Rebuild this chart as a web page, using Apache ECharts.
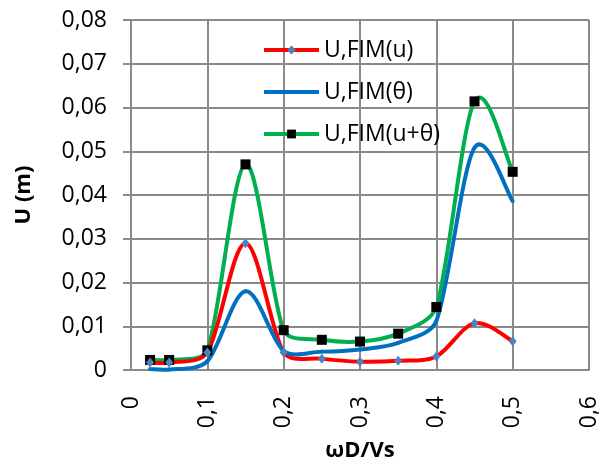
<!DOCTYPE html>
<html>
<head>
<meta charset="utf-8">
<script src="https://cdn.jsdelivr.net/npm/echarts@6/dist/echarts.min.js"></script>
<style>
  html, body { margin: 0; padding: 0; background: #fff; }
  #chart { width: 608px; height: 467px; }
</style>
</head>
<body>
<div id="chart"></div>
<script>
// Frequency ratio ωD/Vs
const freq = [0.025, 0.05, 0.1, 0.15, 0.2, 0.25, 0.3, 0.35, 0.4, 0.45, 0.5];
// Displacement amplitude U (m) for each excitation case
const uFimU = [0.0017, 0.0017, 0.004, 0.029, 0.004, 0.0026, 0.0019, 0.0021, 0.0031, 0.0107, 0.0066];
const uFimTheta = [0.0002, 0.0001, 0.002, 0.018, 0.0044, 0.0042, 0.0047, 0.0062, 0.0112, 0.0508, 0.0386];
const uFimBoth = [0.0023, 0.0023, 0.0045, 0.047, 0.0091, 0.0069, 0.0065, 0.0083, 0.0144, 0.0614, 0.0453];

const names = ['U,FIM(u)', 'U,FIM(θ)', 'U,FIM(u+θ)'];
const colors = { u: '#FF0000', theta: '#0070C0', both: '#00B050' };
const FONT = 'Open Sans';
const GRID_COLOR = '#8a8a8a';
const LINE_W = 4;

const pairs = ys => freq.map((x, i) => [x, ys[i]]);
const commaNum = (v, digits) => (v === 0 ? '0' : v.toFixed(digits).replace('.', ','));

// Control-point offset: 1/6 of the chord between the neighbours, shortened
// so it never reaches further than a third of its own segment.
function handle(prev, next, a, b) {
  let dx = (next[0] - prev[0]) / 6;
  let dy = (next[1] - prev[1]) / 6;
  const len = Math.hypot(dx, dy);
  const lim = Math.hypot(b[0] - a[0], b[1] - a[1]) / 3;
  if (len > lim && len > 0) {
    dx *= lim / len;
    dy *= lim / len;
  }
  return [dx, dy];
}

// Smoothed curve: one cubic Bezier per segment, computed in pixel space
// from the axis scales.
function smoothCurve(ys, color, z) {
  const n = ys.length;
  return {
    type: 'custom',
    coordinateSystem: 'cartesian2d',
    silent: true,
    z: z,
    encode: { x: 0, y: 1 },
    data: pairs(ys),
    renderItem: (params, api) => {
      const i = params.dataIndex;
      if (i >= n - 1) return null;
      const p = k => {
        const j = Math.max(0, Math.min(n - 1, k));
        return api.coord([freq[j], ys[j]]);
      };
      const p0 = p(i - 1), p1 = p(i), p2 = p(i + 1), p3 = p(i + 2);
      const h1 = handle(p0, p2, p1, p2);
      const h2 = handle(p1, p3, p1, p2);
      return {
        type: 'bezierCurve',
        shape: {
          x1: p1[0], y1: p1[1],
          x2: p2[0], y2: p2[1],
          cpx1: p1[0] + h1[0], cpy1: p1[1] + h1[1],
          cpx2: p2[0] - h2[0], cpy2: p2[1] - h2[1]
        },
        style: { stroke: color, lineWidth: LINE_W, fill: null, lineCap: 'round' }
      };
    }
  };
}

// Marker series: only the symbols are drawn, the curve comes from smoothCurve.
function markers(name, ys, symbol, size, symbolColor, z) {
  return {
    name: name,
    type: 'line',
    data: pairs(ys),
    symbol: symbol,
    symbolSize: size,
    showSymbol: symbol !== 'none',
    itemStyle: { color: symbolColor },
    lineStyle: { width: 0, opacity: 0 },
    z: z
  };
}

const chart = echarts.init(document.getElementById('chart'), null, { renderer: 'canvas' });

chart.setOption({
  animation: false,
  backgroundColor: '#ffffff',
  textStyle: { fontFamily: FONT },
  grid: { left: 131, right: 19, top: 20, bottom: 95, containLabel: false },
  legend: {
    data: [
      { name: names[0], lineStyle: { color: colors.u, width: LINE_W, opacity: 1 } },
      { name: names[1], lineStyle: { color: colors.theta, width: LINE_W, opacity: 1 }, itemStyle: { opacity: 0 } },
      { name: names[2], lineStyle: { color: colors.both, width: LINE_W, opacity: 1 } }
    ],
    orient: 'vertical',
    left: 262,
    top: 37,
    padding: 0,
    itemWidth: 55,
    itemHeight: 11,
    itemGap: 16,
    textStyle: { fontFamily: FONT, fontSize: 23, color: '#000', lineHeight: 26 }
  },
  xAxis: {
    type: 'value',
    min: 0,
    max: 0.6,
    interval: 0.1,
    name: 'ωD/Vs',
    nameLocation: 'middle',
    nameGap: 70,
    nameTextStyle: { fontFamily: FONT, fontSize: 22, fontWeight: 'bold', color: '#000' },
    axisLine: { show: true, lineStyle: { color: GRID_COLOR, width: 2 } },
    axisTick: { show: false },
    axisLabel: {
      rotate: 90,
      margin: 26,
      fontFamily: FONT,
      fontSize: 23,
      color: '#000',
      formatter: v => commaNum(v, 1)
    },
    splitLine: { show: true, lineStyle: { color: GRID_COLOR, width: 2 } }
  },
  yAxis: {
    type: 'value',
    min: 0,
    max: 0.08,
    interval: 0.01,
    name: 'U (m)',
    nameLocation: 'middle',
    nameGap: 96,
    nameTextStyle: { fontFamily: FONT, fontSize: 22, fontWeight: 'bold', color: '#000' },
    axisLine: { show: true, lineStyle: { color: GRID_COLOR, width: 2 } },
    axisTick: { show: true, inside: false, length: 8, lineStyle: { color: GRID_COLOR, width: 2 } },
    axisLabel: {
      margin: 24,
      fontFamily: FONT,
      fontSize: 23,
      color: '#000',
      formatter: v => commaNum(v, 2)
    },
    splitLine: { show: true, lineStyle: { color: GRID_COLOR, width: 2 } }
  },
  series: [
    smoothCurve(uFimBoth, colors.both, 2),
    smoothCurve(uFimU, colors.u, 3),
    smoothCurve(uFimTheta, colors.theta, 4),
    markers(names[1], uFimTheta, 'none', 0, colors.theta, 5),
    markers(names[2], uFimBoth, 'rect', 10, '#000000', 6),
    markers(names[0], uFimU, 'diamond', [8, 10], '#4F81BD', 7)
  ]
});
</script>
</body>
</html>
